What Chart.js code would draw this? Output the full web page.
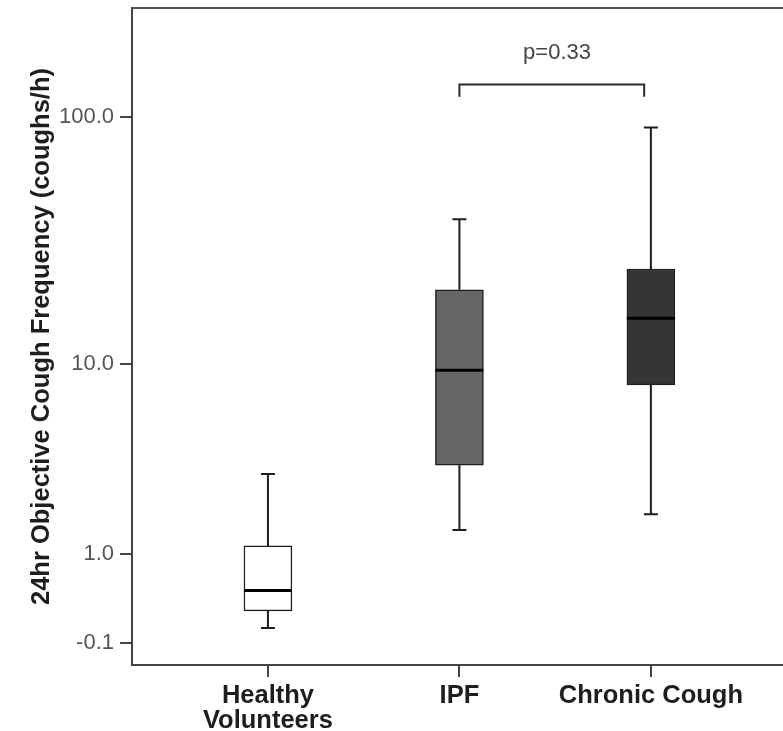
<!DOCTYPE html>
<html>
<head>
<meta charset="utf-8">
<script src="https://cdn.jsdelivr.net/npm/chart.js@4"></script>
<style>
  html, body { margin: 0; padding: 0; background: #fff; }
  #wrap { width: 783px; height: 731px; }
</style>
</head>
<body>
<div id="wrap"><canvas id="coughChart" width="783" height="731"></canvas></div>
<script>
// groups along the x axis
const categories = [["Healthy", "Volunteers"], "IPF", "Chronic Cough"];

// box plot summaries (coughs/h)
const whiskerLow = [0.03, 1.48, 1.86];
const q1 = [0.2, 3.44, 8.12];
const median = [0.44, 9.4, 15.6];
const q3 = [1.15, 20.4, 24.8];
const whiskerHigh = [3.1, 39.3, 90.8];

const boxColors = ["#ffffff", "#666666", "#353535"];

// y axis ticks
const yTickValues = [-0.1, 1.0, 10.0, 100.0];
const yTickLabels = ["-0.1", "1.0", "10.0", "100.0"];

// comparison bracket between IPF and Chronic Cough
const pLabel = "p=0.33";
const bracketFrom = 1.0;
const bracketTo = 1.965;

// the axis is log10(value + 1)
function tr(v) {
  return Math.log10(v + 1);
}

const FONT = "'Liberation Sans', Arial, sans-serif";

const boxPlotPlugin = {
  id: "boxPlotExtras",
  beforeDatasetsDraw(chart) {
    const ctx = chart.ctx;
    const xs = chart.scales.x;
    const ys = chart.scales.y;
    ctx.save();
    ctx.strokeStyle = "#1e1e1e";
    ctx.lineWidth = 2;
    for (let i = 0; i < categories.length; i++) {
      const cx = xs.getPixelForValue(i);
      const yHi = ys.getPixelForValue(tr(whiskerHigh[i]));
      const yLo = ys.getPixelForValue(tr(whiskerLow[i]));
      const yQ3 = ys.getPixelForValue(tr(q3[i]));
      const yQ1 = ys.getPixelForValue(tr(q1[i]));
      ctx.beginPath();
      ctx.moveTo(cx, yQ3);
      ctx.lineTo(cx, yHi);
      ctx.moveTo(cx, yQ1);
      ctx.lineTo(cx, yLo);
      ctx.moveTo(cx - 7, yHi);
      ctx.lineTo(cx + 7, yHi);
      ctx.moveTo(cx - 7, yLo);
      ctx.lineTo(cx + 7, yLo);
      ctx.stroke();
    }
    ctx.restore();
  },
  afterDatasetsDraw(chart) {
    const ctx = chart.ctx;
    const xs = chart.scales.x;
    const ys = chart.scales.y;
    const meta = chart.getDatasetMeta(0);
    ctx.save();
    ctx.strokeStyle = "#000";
    ctx.lineWidth = 3;
    meta.data.forEach((bar, i) => {
      const half = bar.width / 2;
      const ym = ys.getPixelForValue(tr(median[i]));
      ctx.beginPath();
      ctx.moveTo(bar.x - half, ym);
      ctx.lineTo(bar.x + half, ym);
      ctx.stroke();
    });

    // bracket + p value
    const x1 = xs.getPixelForValue(bracketFrom);
    const x2 = xs.getPixelForValue(bracketTo);
    const yTop = ys.getPixelForValue(tr(134));
    const yEnd = ys.getPixelForValue(tr(120));
    ctx.strokeStyle = "#2a2a2a";
    ctx.lineWidth = 2;
    ctx.beginPath();
    ctx.moveTo(x1, yEnd);
    ctx.lineTo(x1, yTop);
    ctx.lineTo(x2, yTop);
    ctx.lineTo(x2, yEnd);
    ctx.stroke();

    ctx.fillStyle = "#444";
    ctx.font = "22px " + FONT;
    ctx.textAlign = "center";
    ctx.textBaseline = "middle";
    ctx.fillText(pLabel, xs.getPixelForValue(1.51), ys.getPixelForValue(tr(179)));
    ctx.restore();
  },
};

const ctx = document.getElementById("coughChart");

new Chart(ctx, {
  type: "bar",
  data: {
    datasets: [
      {
        label: "Cough frequency",
        data: categories.map((c, i) => ({ x: i, y: [tr(q1[i]), tr(q3[i])] })),
        backgroundColor: boxColors,
        borderColor: "#1e1e1e",
        borderWidth: 1.5,
        borderSkipped: false,
        barThickness: 48,
      },
    ],
  },
  options: {
    responsive: false,
    animation: false,
    layout: { padding: 0 },
    plugins: {
      legend: { display: false },
      tooltip: { enabled: false },
    },
    scales: {
      x: {
        type: "linear",
        position: "bottom",
        offset: false,
        min: -0.71,
        max: 2.69,
        afterBuildTicks: (scale) => {
          scale.ticks = categories.map((c, i) => ({ value: i }));
        },
        afterFit: (scale) => {
          scale.height = 66;
          scale.paddingLeft = 0;
          scale.paddingRight = 0;
        },
        grid: {
          offset: false,
          drawOnChartArea: false,
          drawTicks: true,
          tickLength: 12,
          color: "#444",
          lineWidth: 2,
        },
        border: { display: true, color: "#444", width: 2 },
        ticks: {
          padding: 6,
          autoSkip: false,
          maxRotation: 0,
          color: "#1e1e1e",
          font: { family: FONT, size: 25.5, weight: "bold", lineHeight: 1.0 },
          callback: (value, index) => categories[index],
        },
      },
      xTop: {
        type: "linear",
        position: "top",
        afterFit: (scale) => {
          scale.height = 8;
        },
        grid: { display: false },
        ticks: { display: false },
        border: { display: true, color: "#555", width: 2 },
      },
      y: {
        type: "linear",
        min: tr(-0.2615),
        max: tr(267.5),
        afterBuildTicks: (scale) => {
          scale.ticks = yTickValues.map((v) => ({ value: tr(v) }));
        },
        afterFit: (scale) => {
          scale.width = 132;
          scale.paddingTop = 0;
          scale.paddingBottom = 0;
        },
        grid: {
          drawOnChartArea: false,
          drawTicks: true,
          tickLength: 12,
          color: "#444",
          lineWidth: 2,
        },
        border: { display: true, color: "#444", width: 2 },
        ticks: {
          padding: 6,
          color: "#555",
          font: { family: FONT, size: 22 },
          callback: (value, index) => yTickLabels[index],
        },
        title: {
          display: true,
          text: "24hr Objective Cough Frequency (coughs/h)",
          color: "#1e1e1e",
          font: { family: FONT, size: 25.5, weight: "bold" },
          padding: { top: 27, bottom: 0 },
        },
      },
    },
  },
  plugins: [boxPlotPlugin],
});
</script>
</body>
</html>
